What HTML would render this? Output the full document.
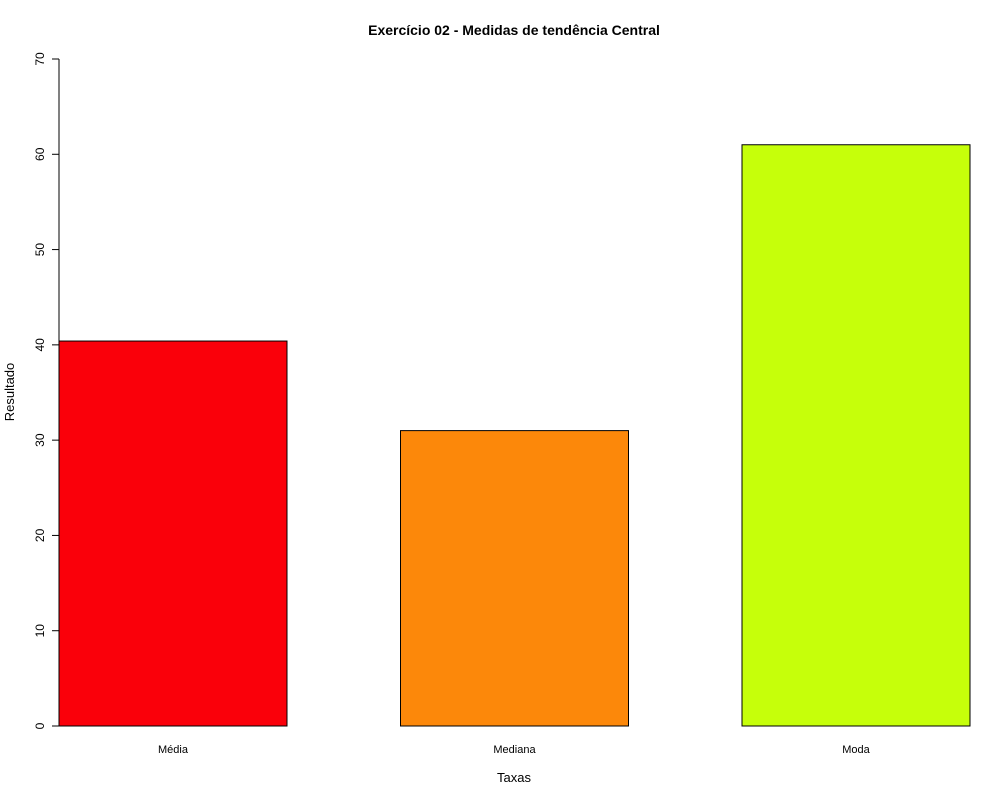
<!DOCTYPE html>
<html><head><meta charset="utf-8"><style>
html,body{margin:0;padding:0;background:#fff;}
svg{display:block;font-family:"Liberation Sans",Arial,sans-serif;}
</style></head><body>
<svg id="chart" width="1000" height="800">
<text x="514" y="35" text-anchor="middle" font-size="14" font-weight="bold">Exercício 02 - Medidas de tendência Central</text>
<text x="514" y="782" text-anchor="middle" font-size="13">Taxas</text>
<text transform="translate(14,392) rotate(-90)" text-anchor="middle" font-size="13">Resultado</text>
<g id="marks"></g>
</svg>
<script>
const categories = ["Média", "Mediana", "Moda"];
const values = [40.4, 31, 61];
const colors = ["#fa000a", "#fc880a", "#c6ff0a"];
const yTicks = [0, 10, 20, 30, 40, 50, 60, 70];

const NS = "http://www.w3.org/2000/svg";
const g = document.getElementById("marks");
const y0 = 726, yTop = 59, yMax = 70;
function yScale(v){ return y0 - (v / yMax) * (y0 - yTop); }
const slotStart = 59, slotStep = 341.5, barW = 228;
function xScale(i){ return slotStart + i * slotStep; }
function mk(tag, attrs){ const e = document.createElementNS(NS, tag); for (const k in attrs) e.setAttribute(k, attrs[k]); g.appendChild(e); return e; }

const axis = mk("line", {x1:59, x2:59, y1:yScale(yTicks[0]), y2:yScale(yTicks[yTicks.length-1]), stroke:"#000"});


yTicks.forEach(t => {
  const y = yScale(t);
  const tk = mk("line", {x1:52, x2:59, y1:y, y2:y, stroke:"#000"});
  
  
  const lb = mk("text", {transform:`translate(44,${y}) rotate(-90)`, "text-anchor":"middle", "font-size":"12"});
  lb.textContent = t;
  
  
});
categories.forEach((c, i) => {
  const x = xScale(i), yv = yScale(values[i]);
  const r = mk("rect", {x:x, y:yv, width:barW, height:y0 - yv, fill:colors[i], stroke:"#000", "stroke-width":1});
  
  
  const t = mk("text", {x:x + barW/2, y:753, "text-anchor":"middle", "font-size":"11"});
  t.textContent = c;
  
  
});
</script>
</body></html>
